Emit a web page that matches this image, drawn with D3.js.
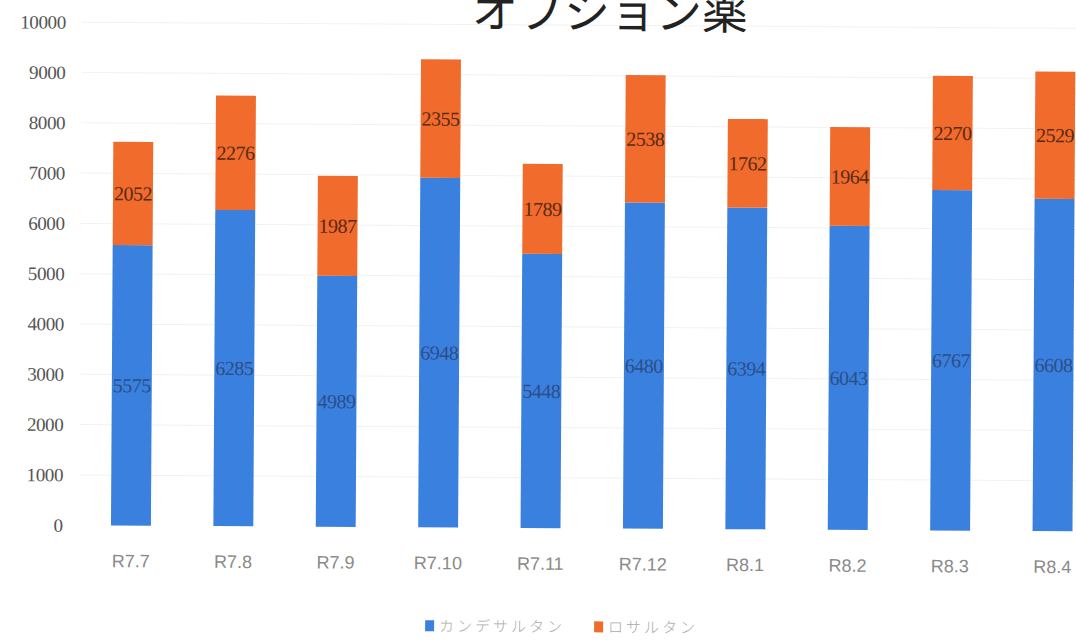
<!DOCTYPE html>
<html>
<head>
<meta charset="utf-8">
<script src="https://cdn.jsdelivr.net/npm/d3@7"></script>
<style>
  body { margin: 0; background: #fff; }
  svg { display: block; }
</style>
</head>
<body>
<script>
// ---------------------- DATA ----------------------
const categories = ["R7.7", "R7.8", "R7.9", "R7.10", "R7.11", "R7.12", "R8.1", "R8.2", "R8.3", "R8.4"];
const candesartan = [5575, 6285, 4989, 6948, 5448, 6480, 6394, 6043, 6767, 6608];
const losartan = [2052, 2276, 1987, 2355, 1789, 2538, 1762, 1964, 2270, 2529];
const seriesNames = ["カンデサルタン", "ロサルタン"];
const seriesColors = ["#3a80df", "#f06b2c"];
const yTicks = [0, 1000, 2000, 3000, 4000, 5000, 6000, 7000, 8000, 9000, 10000];

// ---------------------- RENDER ----------------------
const width = 1076, height = 640;

const svg = d3.select("body").append("svg")
    .attr("width", width)
    .attr("height", height);

// scanned page is slightly tilted
const g = svg.append("g")
    .attr("transform", "rotate(0.35 540 320)");

const x = d3.scaleBand()
    .domain(categories)
    .range([81, 1105])
    .paddingInner(0.61)
    .paddingOuter(0.305);

const y = d3.scaleLinear()
    .domain([0, 10000])
    .range([528, 25]);

// gridlines
g.selectAll(".grid")
    .data(yTicks.slice(1))
    .enter().append("line")
    .attr("class", "grid")
    .attr("x1", 80).attr("x2", width + 20)
    .attr("y1", d => y(d)).attr("y2", d => y(d))
    .attr("stroke", "#f2f2f2")
    .attr("stroke-width", 1);

// y axis labels
const yAxis = g.append("g")
    .attr("transform", "translate(64,0)")
    .call(d3.axisLeft(y).tickValues(yTicks).tickSize(0).tickPadding(0).tickFormat(d3.format("d")));
yAxis.select(".domain").remove();
yAxis.selectAll("text")
    .attr("font-family", "'Liberation Serif', serif")
    .attr("font-size", 19)
    .attr("fill", "#555")
    .attr("letter-spacing", "-0.4");

// stacked bars
const rows = categories.map((c, i) => ({ cat: c, a: candesartan[i], b: losartan[i] }));
const stack = d3.stack().keys(["a", "b"])(rows);

const layers = g.selectAll(".layer")
    .data(stack)
    .enter().append("g")
    .attr("class", "layer")
    .attr("fill", (d, i) => seriesColors[i]);

layers.selectAll("rect")
    .data(d => d)
    .enter().append("rect")
    .attr("x", d => x(d.data.cat))
    .attr("width", x.bandwidth())
    .attr("y", d => y(d[1]))
    .attr("height", d => y(d[0]) - y(d[1]));

// value labels
layers.selectAll("text")
    .data(d => d)
    .enter().append("text")
    .attr("x", d => x(d.data.cat) + x.bandwidth() / 2)
    .attr("y", d => (y(d[0]) + y(d[1])) / 2 + 7)
    .attr("text-anchor", "middle")
    .attr("font-family", "'Liberation Serif', serif")
    .attr("font-size", 20)
    .attr("letter-spacing", "-0.5")
    .attr("fill", function() {
        return d3.select(this.parentNode).datum().key === "a" ? "#2b4f8a" : "#5a2a14";
    })
    .text(d => d[1] - d[0]);

// x axis labels
const xAxis = g.append("g")
    .attr("transform", "translate(0,557)")
    .call(d3.axisBottom(x).tickSize(0).tickPadding(0));
xAxis.select(".domain").remove();
xAxis.selectAll("text")
    .attr("font-family", "'Liberation Sans Narrow', 'Liberation Sans', sans-serif")
    .attr("font-size", 18)
    .attr("fill", "#8a8a8a")
    .attr("dy", "0.71em");

// title
g.append("text")
    .attr("x", 608)
    .attr("y", 28)
    .attr("text-anchor", "middle")
    .attr("font-family", "'Noto Sans CJK JP', sans-serif")
    .attr("font-size", 46)
    .attr("fill", "#222")
    .text("オプション薬");

// legend
const legendX = [427, 596];
const legend = g.selectAll(".legend")
    .data(seriesNames)
    .enter().append("g")
    .attr("class", "legend")
    .attr("transform", (d, i) => `translate(${legendX[i]},621)`);

legend.append("rect")
    .attr("width", 9).attr("height", 11)
    .attr("fill", (d, i) => seriesColors[i]);

legend.append("text")
    .attr("x", 14)
    .attr("y", 11)
    .attr("font-family", "'Noto Sans CJK JP', sans-serif")
    .attr("font-size", 15)
    .attr("font-weight", 300)
    .attr("letter-spacing", "3")
    .attr("fill", "#aaa")
    .text(d => d);
</script>
</body>
</html>
